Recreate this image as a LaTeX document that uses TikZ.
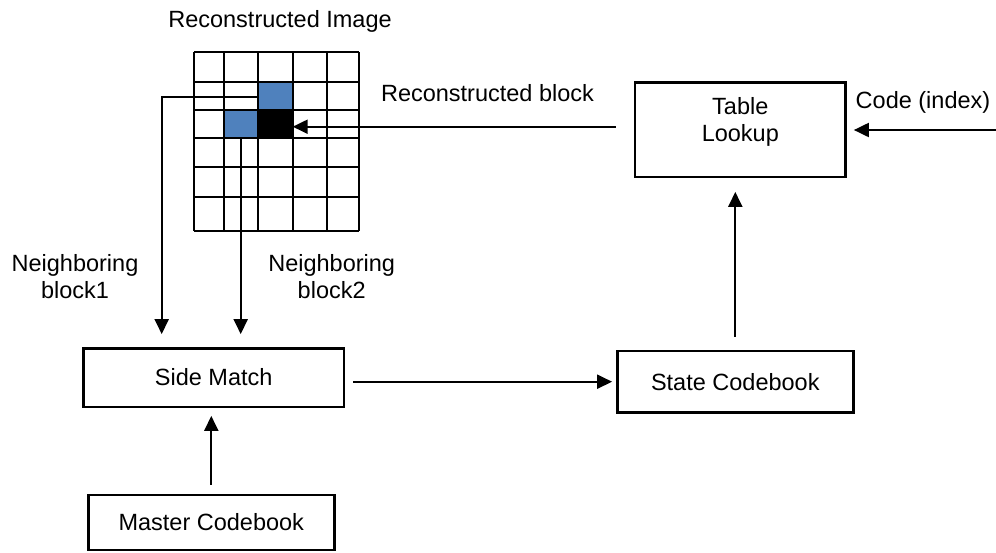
\documentclass[tikz,border=0pt]{standalone}
\usepackage{fontspec}
\setmainfont{Liberation Sans}
\usetikzlibrary{arrows.meta}
\definecolor{cellblue}{RGB}{79,129,189}
\tikzset{
  >={Triangle[length=15pt,width=14pt]},
  lbl/.style={font=\fontsize{23.5}{27}\selectfont, inner sep=0pt, align=center},
  box/.style={draw, line width=2.4pt, lbl},
  conn/.style={->, line width=2pt},
}
\begin{document}
\begin{tikzpicture}[x=1pt,y=-1pt]
        \useasboundingbox (0,0) rectangle (996,552);
        % reconstructed image grid
        \fill[cellblue] (258,81.7) rectangle (292.7,110);
        \fill[cellblue] (224,110) rectangle (258,138.3);
        \fill[black] (258,110) rectangle (292.7,138.3);
        \foreach \x in {194,224,258,292.7,326.7,359.3}
            \draw[line width=2pt] (\x,52) -- (\x,230.7);
        \foreach \y in {52,81.7,110,138.3,167.3,197.3,230.7}
            \draw[line width=2pt] (194,\y) -- (359.3,\y);
        \coordinate (nb1) at (258,96.7);
        \coordinate (nb2) at (240.7,138.3);
        \coordinate (cur) at (292.7,126.7);
        \coordinate (codein) at (996,130);
        % blocks
        \node[box, minimum width=260.7pt, minimum height=58.4pt] (side) at (213.7,377.5) {Side Match};
        \node[box, minimum width=246pt, minimum height=55pt] (master) at (211.3,522.5) {Master Codebook};
        \node[box, minimum width=236pt, minimum height=61.3pt] (state) at (735.3,381.7) {State Codebook};
        \node[box, minimum width=210.7pt, minimum height=94.4pt, text depth=20pt] (lookup) at (740.3,129.5) {Table\\Lookup};
        % labels
        \node[lbl] (imgtitle) at (280,21) {Reconstructed Image};
        \node[lbl] (recblock) at (487.5,93) {Reconstructed block};
        \node[lbl] (code) at (923,102) {Code (index)};
        \node[lbl] (nblabel1) at (75,277) {Neighboring\\block1};
        \node[lbl] (nblabel2) at (331.7,277) {Neighboring\\block2};
        % connectors
        \draw[conn, shorten >=13pt] (nb1) -| ([xshift=-52pt]side.north);
        \draw[conn, shorten >=13pt] (nb2) -- (nb2 |- side.north);
        \draw[conn, shorten <=18pt] (lookup.west |- cur) -- (cur);
        \draw[conn, shorten >=7pt] (codein) -- (codein -| lookup.east);
        \draw[conn, shorten <=9pt, shorten >=8pt] (master.north) -- (master.north |- side.south);
        \draw[conn, shorten <=8pt, shorten >=4pt] (side.east |- state.west) -- (state.west);
        \draw[conn, shorten <=13pt, shorten >=14pt] (state.north) -- (state.north |- lookup.south);
    \end{tikzpicture}
\end{document}
